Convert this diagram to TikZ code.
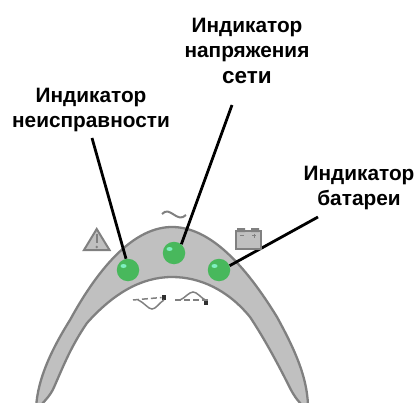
\documentclass[tikz,border=0pt]{standalone}
\usepackage{fontspec}
\setmainfont{Liberation Sans}
\usetikzlibrary{shapes.geometric}
\definecolor{bodygrey}{HTML}{C0C0C0}
\definecolor{edgegrey}{HTML}{808080}
\definecolor{ledgreen}{HTML}{48B85C}
\definecolor{ledshine}{HTML}{7FEFC0}
\definecolor{pinblack}{HTML}{303030}

\begin{document}
\begin{tikzpicture}[
  x=1pt, y=-1pt,
  every node/.style={font=\bfseries\fontsize{20.8}{24.5}\selectfont, align=center},
  led/.style={circle, minimum size=22.5pt, inner sep=0pt, fill=ledgreen,
    path picture={\fill[ledshine] ([xshift=-4.5pt,yshift=4pt]path picture bounding box.center) ellipse (3pt and 2pt);}},
  pointer/.style={line width=2.8pt, black},
  icon/.style={edgegrey, line width=2pt},
  pin/.style={fill=pinblack, inner sep=0pt, minimum size=4.5pt}
]
\useasboundingbox (0,0) rectangle (417,403);

% body of the unit
\fill[bodygrey, draw=edgegrey, line width=2.3pt]
  (36,412) .. controls (36,385) and (48,355) .. (70,320)
  .. controls (100,265) and (135,227) .. (172,227)
  .. controls (210,227) and (245,265) .. (277,317)
  .. controls (295,350) and (309,380) .. (308,412)
  .. controls (303,405) and (297,402) .. (290,388)
  .. controls (275,358) and (262,335) .. (250,317)
  .. controls (228,290) and (200,277) .. (172,277)
  .. controls (140,277) and (112,295) .. (87,323)
  .. controls (72,345) and (65,362) .. (55,385)
  .. controls (50,398) and (42,402) .. (36,412) -- cycle;

\node[led] (ledfault) at (128,270) {};
\node[led] (ledmains) at (174,253) {};
\node[led] (ledbatt) at (219,270) {};

\node (lblfault) at (91,110) {Индикатор\\неисправности};
\node (lblmains) at (247,51) {Индикатор\\напряжения\\[1.5pt]{\fontsize{22.5}{25}\selectfont сети}};
\node (lblbatt) at (359,188) {Индикатор\\батареи};

\coordinate (fromfault) at (92,138);
\coordinate (frommains) at (232,105);
\coordinate (frombatt) at (318,217);

\draw[pointer] (fromfault) -- (ledfault.100);
\draw[pointer] (frommains) -- (ledmains.50);
\draw[pointer] (frombatt) -- (ledbatt.22);

% warning sign
\draw[icon, fill=bodygrey, line join=miter] (96.7,229) -- (84,250) -- (109.5,250) -- cycle;
\draw[icon] (96.7,234) -- (96.7,243);
\fill[edgegrey] (96.7,247) circle (1.4);

% mains wave
\draw[icon] (162,214) .. controls (170,205) and (177,224) .. (186,215);

% battery
\draw[icon, fill=bodygrey] (235.5,231) rectangle (261,249);
\fill[edgegrey] (237,228) rectangle (245,232) (251,228) rectangle (259,232);
\draw[edgegrey, line width=0.9pt] (240,235.5) -- (244,235.5) (252,235.5) -- (256,235.5) (254,233.5) -- (254,237.5);

% voltage marks
\node[pin] (pinlow) at (164,297.5) {};
\node[pin] (pinhigh) at (206,303) {};
\draw[edgegrey, line width=1.5pt, dash pattern=on 6pt off 3pt] (133,300) -- (pinlow.west);
\draw[edgegrey, line width=1.5pt] (138,300) .. controls (145,303) and (148,309) .. (152,309) .. controls (156,309) and (159,303) .. (pinlow.south);
\draw[edgegrey, line width=1.5pt, dash pattern=on 6pt off 3pt] (175,300) -- (208,300);
\draw[edgegrey, line width=1.5pt] (180,300) .. controls (185,298) and (189,292) .. (193,292) .. controls (197,292) and (200,297) .. (pinhigh.north);

\end{tikzpicture}
\end{document}
